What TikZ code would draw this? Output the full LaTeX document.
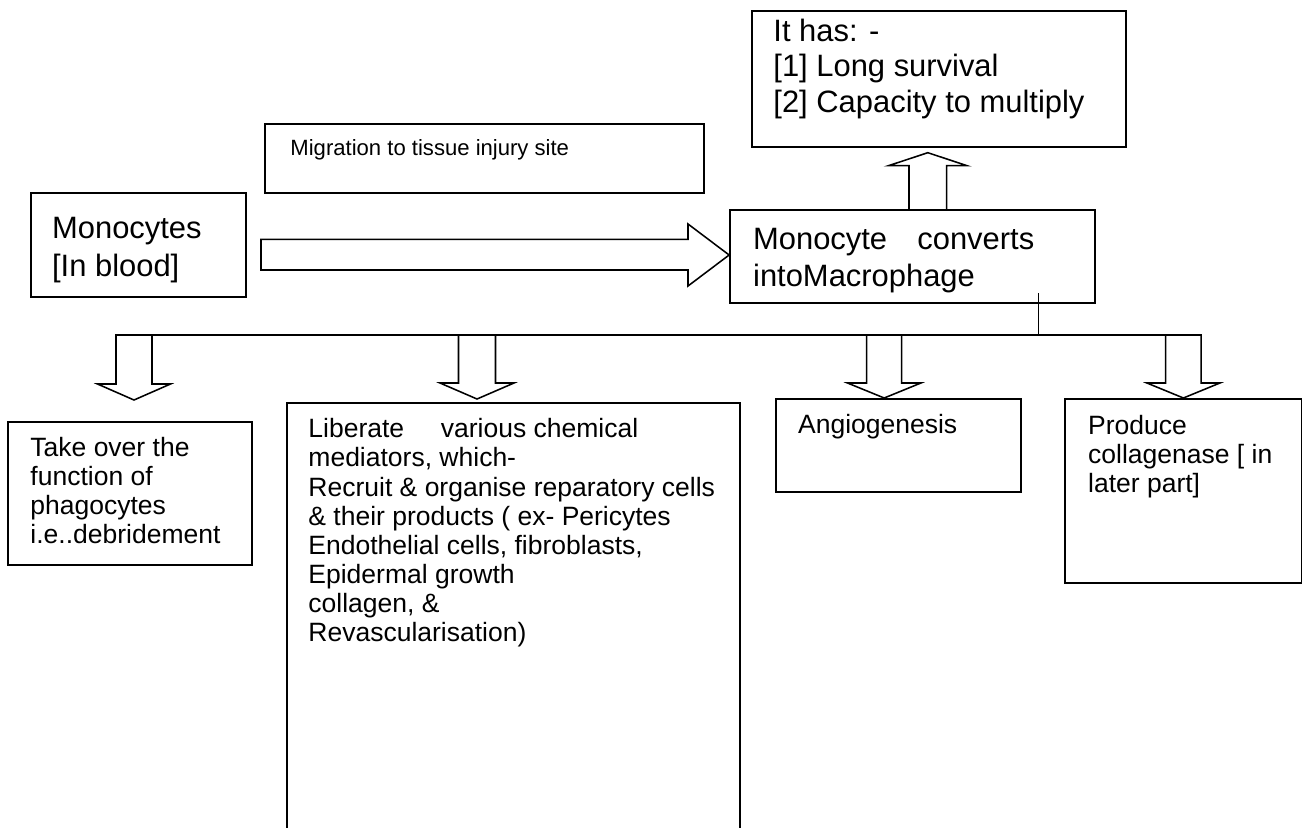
\documentclass[tikz,border=0pt]{standalone}
\usepackage{fontspec}
\setmainfont{Liberation Sans}
\usetikzlibrary{fit}
\tikzset{
  box/.style={draw, line width=0.8pt, inner sep=0pt},
  txt/.style={anchor=base west, align=left, inner sep=0pt},
  bigtext/.style={font=\fontsize{14}{16.9}\selectfont},
  hastext/.style={font=\fontsize{14}{16.1}\selectfont},
  smalltext/.style={font=\fontsize{12}{13.2}\selectfont},
  tinytext/.style={font=\fontsize{10}{12}\selectfont},
  blk/.style={draw, line width=0.7pt, line join=miter, fill=white},
  conn/.style={draw, line width=0.7pt},
}
% vertical block arrow: x centre, y start, y tip, shaft half width, head half width, head length
\newcommand\vblock[6]{%
  \draw[blk] (#1-#4,#2) -- (#1-#4,#3-#6) -- (#1-#5,#3-#6) -- (#1,#3)
    -- (#1+#5,#3-#6) -- (#1+#4,#3-#6) -- (#1+#4,#2) -- cycle;}
\begin{document}
\begin{tikzpicture}[x=0.4528pt, y=-0.4528pt]
\useasboundingbox (0,0) rectangle (1306,827);
\clip (0,0) rectangle (1306,827);

% boxes
\node[box, fit={(752,11) (1125.7,146.7)}] (has) {};
\node[box, fit={(265,124) (704,192.7)}] (mig) {};
\node[box, fit={(30.7,192.7) (246,297)}] (mono) {};
\node[box, fit={(730,210) (1095,302.7)}] (mac) {};
\node[box, fit={(8.3,421.7) (251.7,565)}] (take) {};
\node[box, fit={(287,403) (740,860)}] (lib) {};
\node[box, fit={(776,399) (1020.7,491.7)}] (angio) {};
\node[box, fit={(1065,399) (1301.5,583)}] (prod) {};

% texts (anchored at the baseline of their last line)
\node[txt, hastext] (hasT) at (773,112.2) {It has: -\\{}[1] Long survival\\{}[2] Capacity to multiply};
\node[txt, tinytext] (migT) at (290,155) {Migration to tissue injury site};
\node[txt, bigtext] (monoT) at (51.7,276.3) {Monocytes\\{}[In blood]};
\node[txt, bigtext] (macT) at (752.7,286.6) {Monocyte\hspace{9.8pt} converts\\intoMacrophage};
\node[txt, smalltext] (takeT) at (30,543.5) {Take over the\\function of\\phagocytes\\i.e..debridement};
\node[txt, smalltext] (libT) at (308,641.8) {Liberate\hspace{13.3pt} various chemical\\mediators, which-\\Recruit \& organise reparatory cells\\\& their products ( ex- Pericytes\\Endothelial cells, fibroblasts,\\Epidermal growth\\collagen, \&\\Revascularisation)};
\node[txt, smalltext] (angioT) at (797.7,433.5) {Angiogenesis};
\node[txt, smalltext] (prodT) at (1087.7,492.3) {Produce\\collagenase [ in\\later part]};

% main block arrow: monocytes -> macrophage
\draw[blk] (261,239.3) -- (688,239.3) -- (688,224) -- (mac.west |- 0,255)
  -- (688,286) -- (688,270) -- (261,270) -- cycle;

% up block arrow: macrophage -> "It has"
\vblock{927.8}{210}{152.7}{18.8}{39.3}{-13}

% bus line
\coordinate (busL) at (133,335);
\coordinate (busR) at (1201,335);
\coordinate (hub) at (1038.5,335);
\draw[conn] (busL) -- (busR);
\draw[conn] (hub) -- (hub |- 0,292.7);

% down block arrows
\vblock{134}{335}{400}{18}{36.5}{16}
\vblock{477}{335}{399}{18.5}{37}{16}
\vblock{884.2}{335}{398}{17.5}{36.7}{15}
\vblock{1183.4}{335}{398}{17.7}{36.5}{15}
\end{tikzpicture}
\end{document}
